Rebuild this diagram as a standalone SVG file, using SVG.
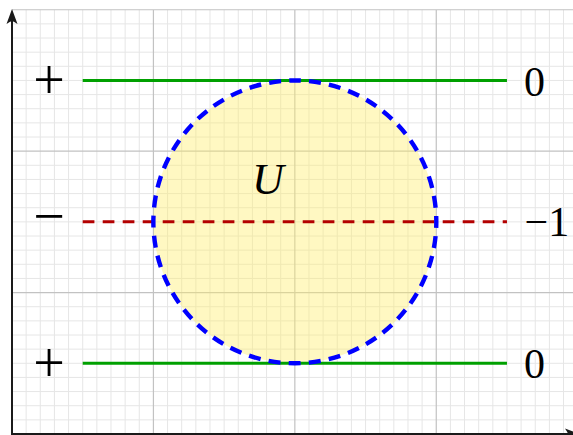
<svg xmlns="http://www.w3.org/2000/svg" width="573" height="435" viewBox="0 0 573 435">
<style>
.minor{stroke:#e6e6e6;stroke-width:1;fill:none}
.major{stroke:#c2c2c2;stroke-width:1.2;fill:none}
.axis{stroke:#1a1a1a;stroke-width:2;fill:none}
.green{stroke:#00a000;stroke-width:3;fill:none}
.lbl{font-family:"Liberation Serif","Times New Roman",serif;fill:#000}
</style>
<rect width="573" height="435" fill="#fff"/>
<g id="grid">
<path class="minor" d="M26.14 9.74V434M40.28 9.74V434M54.43 9.74V434M68.57 9.74V434M82.71 9.74V434M96.85 9.74V434M110.99 9.74V434M125.14 9.74V434M139.28 9.74V434M167.56 9.74V434M181.7 9.74V434M195.85 9.74V434M209.99 9.74V434M224.13 9.74V434M238.27 9.74V434M252.41 9.74V434M266.56 9.74V434M280.7 9.74V434M308.98 9.74V434M323.12 9.74V434M337.27 9.74V434M351.41 9.74V434M365.55 9.74V434M379.69 9.74V434M393.83 9.74V434M407.98 9.74V434M422.12 9.74V434M450.4 9.74V434M464.54 9.74V434M478.69 9.74V434M492.83 9.74V434M506.97 9.74V434M521.11 9.74V434M535.25 9.74V434M549.4 9.74V434M563.54 9.74V434M12 419.86H573M12 405.72H573M12 391.57H573M12 377.43H573M12 363.29H573M12 349.15H573M12 335.01H573M12 320.86H573M12 306.72H573M12 278.44H573M12 264.3H573M12 250.15H573M12 236.01H573M12 221.87H573M12 207.73H573M12 193.59H573M12 179.44H573M12 165.3H573M12 137.02H573M12 122.88H573M12 108.73H573M12 94.59H573M12 80.45H573M12 66.31H573M12 52.17H573M12 38.02H573M12 23.88H573"/>
<path class="major" d="M153.42 9.74V434M294.84 9.74V434M436.26 9.74V434M12 292.58H573M12 151.16H573M12 9.74H573"/>
</g>
<g id="region-U">
<circle cx="294.84" cy="221.87" r="141.42" fill="#ffee66" fill-opacity="0.4"/>
<text class="lbl" x="252" y="194" font-size="44" font-style="italic">U</text>
</g>
<g id="connectors">
<line id="top-line" class="green" x1="82.71" y1="80.45" x2="506.97" y2="80.45"/>
<line id="bottom-line" class="green" x1="82.71" y1="363.29" x2="506.97" y2="363.29"/>
<line id="mid-line" x1="82.71" y1="221.87" x2="506.97" y2="221.87" stroke="#b30000" stroke-width="3" stroke-dasharray="11.7 8.3"/>
<path id="circle-boundary" d="M294.84 80.45A141.42 141.42 0 1 1 294.84 363.29A141.42 141.42 0 1 1 294.84 80.45Z" fill="none" stroke="#0000ff" stroke-width="4.4" stroke-dasharray="12 8.2" stroke-dashoffset="6"/>
</g>
<g id="axes">
<line class="axis" x1="12" y1="434" x2="12" y2="18"/>
<path d="M12 9L17.5 24Q14 21.5 12 21Q10 21.5 6.5 24Z" fill="#1a1a1a"/>
<line class="axis" x1="11" y1="434" x2="572" y2="434"/>
<path d="M580 434L565 428.5Q567.5 432 568 434Q567.5 436 565 439.5Z" fill="#1a1a1a"/>
</g>
<g id="labels">
<text class="lbl" x="49" y="98.5" font-size="56" text-anchor="middle">+</text>
<text class="lbl" x="49" y="234.5" font-size="56" text-anchor="middle">−</text>
<text class="lbl" x="49" y="381.5" font-size="56" text-anchor="middle">+</text>
<text class="lbl" x="534.5" y="95.5" font-size="42" text-anchor="middle">0</text>
<text class="lbl" x="524.5" y="236" font-size="42">−1</text>
<text class="lbl" x="534.5" y="378" font-size="42" text-anchor="middle">0</text>
</g>
</svg>
